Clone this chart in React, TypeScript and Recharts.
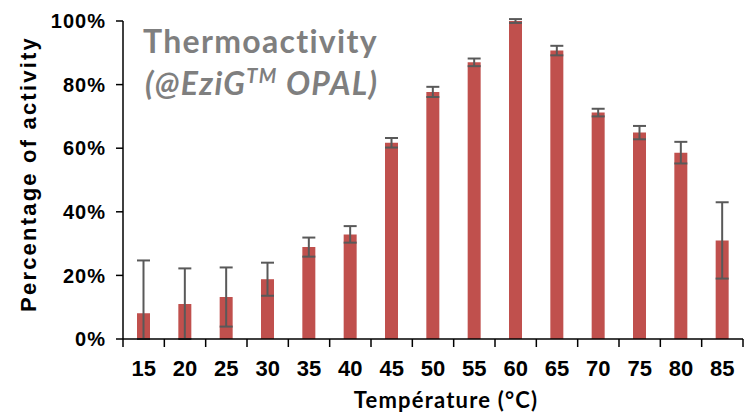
import { Bar, BarChart, ErrorBar, XAxis, YAxis } from "recharts"

// Température (°C)
const temperatures = ["15", "20", "25", "30", "35", "40", "45", "50", "55", "60", "65", "70", "75", "80", "85"]
// % d'activité relative
const activity = [8.1, 11.0, 13.2, 18.8, 28.9, 32.9, 61.7, 77.7, 87.0, 100, 90.7, 71.2, 64.9, 58.6, 31.0]
// écart-type (symétrique)
const deviation = [16.6, 11.2, 9.3, 5.2, 3.0, 2.6, 1.5, 1.6, 1.2, 0.6, 1.5, 1.2, 2.1, 3.4, 12.0]
const yTicks = [0, 20, 40, 60, 80, 100]

const data = temperatures.map((t, i) => ({
  temp: t,
  activity: activity[i],
  // la barre d'erreur est coupée à 0 %
  err: [Math.min(deviation[i], activity[i]), deviation[i]],
}))

const ARIAL = "'Liberation Sans', Arial, sans-serif"
const CALIBRI = "Lato, 'Open Sans', sans-serif"

function XTick(props: any) {
  const { x, y, payload, index } = props
  const half = payload?.offset ?? 20.67
  const last = index === temperatures.length - 1
  return (
    <g>
      <line x1={x - half} x2={x - half} y1={y} y2={y + 8} stroke="#000" strokeWidth={1.5} />
      {last && <line x1={x + half} x2={x + half} y1={y} y2={y + 8} stroke="#000" strokeWidth={1.5} />}
      <text
        x={x}
        y={y + 37}
        textAnchor="middle"
        fill="#000"
        fontSize={22}
        fontWeight={700}
        fontFamily={ARIAL}
      >
        {payload.value}
      </text>
    </g>
  )
}

export default function App() {
  return (
    <div style={{ position: "absolute", left: 0, top: 0, width: 745, height: 414, background: "#fff" }}>
      <BarChart
        width={745}
        height={414}
        data={data}
        margin={{ top: 21, right: 2, left: 0, bottom: 0 }}
        barCategoryGap={0}
      >
        <XAxis
          dataKey="temp"
          height={75}
          axisLine={{ stroke: "#000", strokeWidth: 1.5 }}
          tickLine={false}
          tickSize={0}
          tickMargin={0}
          interval={0}
          tick={<XTick />}
        />
        <YAxis
          width={123}
          domain={[0, 100]}
          ticks={yTicks}
          allowDataOverflow
          axisLine={{ stroke: "#000", strokeWidth: 1.5 }}
          tickLine={{ stroke: "#000", strokeWidth: 1.5 }}
          tickSize={7}
          tickMargin={10}
          tickFormatter={(v: number) => `${v}%`}
          tick={{ fill: "#000", fontSize: 20, fontWeight: 700, fontFamily: ARIAL, letterSpacing: 1 }}
        />
        <Bar dataKey="activity" fill="#c0504d" barSize={13} isAnimationActive={false}>
          <ErrorBar
            dataKey="err"
            width={6.5}
            stroke="#595959"
            strokeWidth={2}
            isAnimationActive={false}
          />
        </Bar>
      </BarChart>
      <svg
        width={745}
        height={414}
        style={{ position: "absolute", left: 0, top: 0, pointerEvents: "none" }}
      >
        <text x={143} y={53} fill="#7f7f7f" fontFamily={CALIBRI} fontWeight={700} fontSize={32} letterSpacing={1.3}>
          Thermoactivity
        </text>
        <text
          x={145}
          y={95}
          fill="#7f7f7f"
          fontFamily={CALIBRI}
          fontWeight={700}
          fontStyle="italic"
          fontSize={32}
          letterSpacing={1.3}
        >
          (@EziG
          <tspan fontSize={20} dy={-12}>TM</tspan>
          <tspan fontSize={32} dy={12}> OPAL)</tspan>
        </text>
        <text
          transform="translate(28,174) rotate(-90)"
          textAnchor="middle"
          dominantBaseline="central"
          fill="#000"
          fontFamily={ARIAL}
          fontWeight={700}
          fontSize={22}
          letterSpacing={2.2}
        >
          Percentage of activity
        </text>
        <text
          x={446}
          y={408}
          textAnchor="middle"
          fill="#000"
          fontFamily={CALIBRI}
          fontWeight={700}
          fontSize={22}
          letterSpacing={1.2}
        >
          Température (°C)
        </text>
      </svg>
    </div>
  )
}
